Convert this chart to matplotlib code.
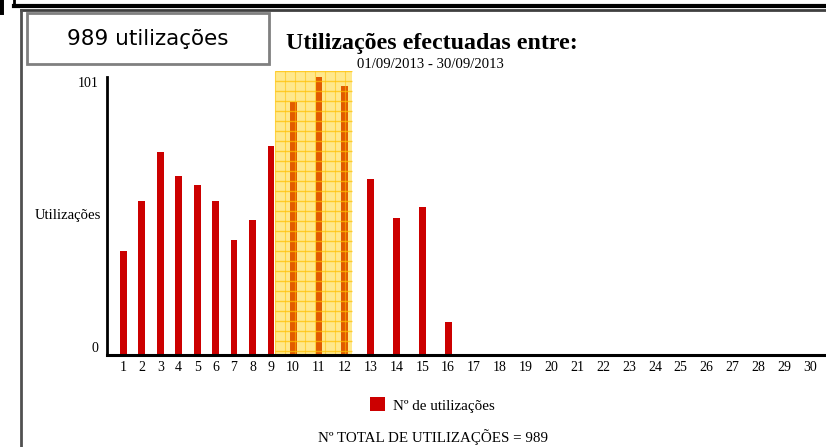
import numpy as np
import matplotlib
matplotlib.use('Agg')
import matplotlib.pyplot as plt
from matplotlib.patches import Rectangle
from matplotlib.lines import Line2D

# ---- data ----
days = list(range(1, 31))
day_labels = [str(d) for d in days]
uses = [38, 56, 74, 65, 62, 56, 42, 49, 76, 92, 101, 98, 64, 50, 54, 12,
        0, 0, 0, 0, 0, 0, 0, 0, 0, 0, 0, 0, 0, 0]
highlight_days = [10, 11, 12]
y_ticks = [0, 101]
title = "Utilizações efectuadas entre:"
subtitle = "01/09/2013 - 30/09/2013"
box_text = "989 utilizações"
y_label = "Utilizações"
legend_label = "Nº de utilizações"
footer = "Nº TOTAL DE UTILIZAÇÕES = 989"

W, H = 826, 447
fig = plt.figure(figsize=(W / 100, H / 100), dpi=100)
fig.patch.set_facecolor('white')


def fx(px):
    return px / W


def fy(py):
    return 1 - py / H


serif = ['Liberation Serif', 'DejaVu Serif']

# label-width driven slot layout (single digit narrower than double digit)
slots = np.array([1.0 if len(l) == 1 else 1.4 for l in day_labels])
centers = np.cumsum(slots) - slots / 2

ax = fig.add_axes([fx(107), fy(355), 1 - fx(107), fy(71) - fy(355)])
ax.set_xlim(-0.383, 38.57)
ax.set_ylim(0, 103.3)
ax.set_facecolor('none')

bars = ax.bar(centers, uses, width=0.37, color='#cc0000', zorder=2,
              label=legend_label)

# highlight overlay
i0 = days.index(highlight_days[0])
i1 = days.index(highlight_days[-1])
x0 = centers[i0] - 0.98
x1 = centers[i1] + 0.40
ytop = 103.3
ax.add_patch(Rectangle((x0, 0), x1 - x0, ytop, facecolor='#ffcc00',
                       alpha=0.45, edgecolor='none', zorder=3))
dx = 10 / 18.46
dy = 10 / 2.75
for xv in np.arange(x0, x1 + 1e-6, dx):
    ax.plot([xv, xv], [0, ytop], color='#ffc000', lw=0.8, alpha=0.55,
            zorder=4, solid_capstyle='butt')
for yv in np.arange(ytop, 0, -dy):
    ax.plot([x0, x1], [yv, yv], color='#ffc000', lw=1.0, alpha=0.7,
            zorder=4, solid_capstyle='butt')

for s in ['top', 'right']:
    ax.spines[s].set_visible(False)
ax.spines['left'].set_linewidth(2)
ax.spines['bottom'].set_linewidth(2.2)
ax.spines['left'].set_bounds(0, 101)
ax.spines['left'].set_zorder(5)
ax.spines['bottom'].set_zorder(5)

ax.set_xticks(centers)
ax.set_xticklabels(day_labels, fontfamily=serif, fontsize=10)
ax.set_yticks(y_ticks)
ax.set_yticklabels([str(v) for v in y_ticks], fontfamily=serif, fontsize=10)
ylabs = ax.get_yticklabels()
ylabs[0].set_va('bottom')
ylabs[1].set_va('top')
ax.tick_params(axis='x', length=0, pad=4)
ax.tick_params(axis='y', length=0, pad=6)

fig.text(fx(101), fy(216), y_label, ha='right', va='center',
         fontfamily=serif, fontsize=10.6)

# titles
fig.text(fx(432), fy(43), title, ha='center', va='center',
         fontfamily=serif, fontsize=17.2, fontweight='bold')
fig.text(fx(430), fy(64), subtitle, ha='center', va='center',
         fontfamily=serif, fontsize=10.6)

# box
fig.patches.append(Rectangle((fx(27), fy(64)), fx(269) - fx(27), fy(13) - fy(64),
                             transform=fig.transFigure, facecolor='white',
                             edgecolor='#808080', lw=2))
fig.text(fx(148), fy(39), box_text, ha='center', va='center',
         fontfamily=['DejaVu Sans'], fontsize=15.5)

# legend
fig.legend(handles=[bars], labels=[legend_label], loc='center',
           bbox_to_anchor=(fx(432), fy(405)), frameon=False,
           prop={'family': serif, 'size': 10.8}, handlelength=1.05,
           handleheight=1.05, handletextpad=0.5)

fig.text(fx(433), fy(437), footer, ha='center', va='center',
         fontfamily=serif, fontsize=10.8)

# frame lines
fig.add_artist(Line2D([fx(14), 1], [fy(5.5), fy(5.5)], color='black', lw=3))
fig.add_artist(Line2D([fx(14), fx(14)], [1, fy(6)], color='black', lw=2))
fig.add_artist(Line2D([0, 0], [1, fy(11)], color='black', lw=5))
fig.add_artist(Line2D([fx(21), 1], [fy(10), fy(10)], color='#404040', lw=2))
fig.add_artist(Line2D([fx(21), fx(21)], [fy(10), 0], color='#505050', lw=2))

fig.savefig('out.png', dpi=100)
